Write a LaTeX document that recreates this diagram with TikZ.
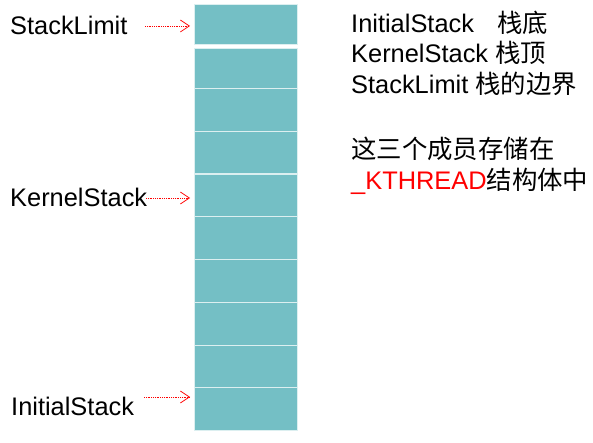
\documentclass[tikz,border=0pt]{standalone}
\usepackage{fontspec}
\setmainfont{Liberation Sans}
\newfontfamily\cjk{Noto Sans CJK SC}
\usetikzlibrary{arrows.meta}
\definecolor{stkfill}{HTML}{74BFC5}
\tikzset{
  stk cell/.style={
    rectangle,fill=stkfill,draw=stkfill!25!white,line width=1.1bp,
    minimum width=103bp,inner sep=0pt,anchor=north west
  },
  stk ptr/.style={red,densely dotted,line width=0.8bp,shorten >=4bp,
    -{Straight Barb[length=9bp,width=12bp,line width=0.7bp]}},
  stk text/.style={anchor=base west,inner sep=0pt,
    font=\fontsize{25.5}{30}\selectfont}
}
\newcommand{\zh}[1]{{\cjk #1}}

\begin{document}
\begin{tikzpicture}[x=1bp,y=-1bp]
  \useasboundingbox (0,0) rectangle (593,443);
  % the stack
  \node[stk cell,minimum height=40bp] (c1) at (194,4) {};
  \node[stk cell,minimum height=40bp] (c2) at (194,48) {};
  \foreach \i in {3,...,10}{
    \node[stk cell,minimum height=42.75bp] (c\i) at (194,{88+(\i-3)*42.75}) {};
  }
  % pointers
  \node[stk text] (lim) at (10,35) {StackLimit};
  \node[stk text] (krn) at (10,206.5) {KernelStack};
  \node[stk text] (ini) at (11,415) {InitialStack};
  \coordinate (lim-t) at (145,26);
  \coordinate (krn-t) at (146,198);
  \coordinate (ini-t) at (144,397);
  \draw[stk ptr] (lim-t) -- (lim-t -| c1.west);
  \draw[stk ptr] (krn-t) -- (krn-t -| c5.west);
  \draw[stk ptr] (ini-t) -- (ini-t -| c10.west);
  % notes
  \node[stk text] (n1) at (351,33) {InitialStack\hspace{23bp}\zh{栈底}};
  \node[stk text] (n2) at (351,63) {KernelStack \zh{栈顶}};
  \node[stk text] (n3) at (351,93.5) {StackLimit \zh{栈的边界}};
  \node[stk text] (n4) at (351,159) {\zh{这三个成员存储在}};
  \node[stk text] (n5) at (351,190) {{\color{red}\_KTHREAD}\zh{结构体中}};
\end{tikzpicture}
\end{document}
